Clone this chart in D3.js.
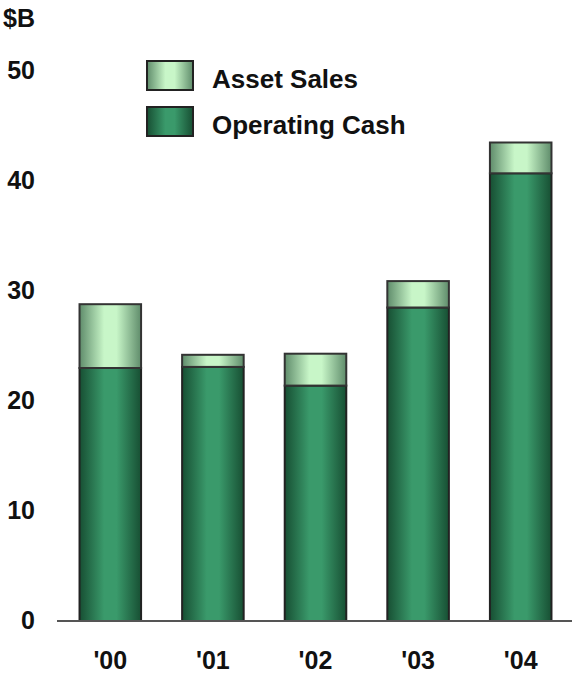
<!DOCTYPE html>
<html>
<head>
<meta charset="utf-8">
<script src="https://d3js.org/d3.v7.min.js"></script>
<style>
  body { margin: 0; background: #fff; }
  text { font-family: Arial, "Liberation Sans", sans-serif; font-weight: bold; fill: #111; }
</style>
</head>
<body>
<svg id="chart" width="575" height="675"></svg>
<script>
// data
var years = ["'00", "'01", "'02", "'03", "'04"];
var operatingCash = [23.0, 23.1, 21.4, 28.5, 40.7];
var assetSales = [5.8, 1.1, 2.9, 2.4, 2.8];
var yTicks = [0, 10, 20, 30, 40, 50];
var seriesNames = ["Asset Sales", "Operating Cash"];

var svg = d3.select("#chart");

var x = d3.scaleBand().domain(years).range([59, 572]).paddingInner(0.4).paddingOuter(0.2);
var y = d3.scaleLinear().domain([0, 50]).range([621, 71]);

// gradients (cylinder look)
var defs = svg.append("defs");
function grad(id, edge, mid) {
  var g = defs.append("linearGradient").attr("id", id)
    .attr("x1", "0%").attr("x2", "100%").attr("y1", "0%").attr("y2", "0%");
  g.append("stop").attr("offset", "0%").attr("stop-color", edge);
  g.append("stop").attr("offset", "40%").attr("stop-color", mid);
  g.append("stop").attr("offset", "60%").attr("stop-color", mid);
  g.append("stop").attr("offset", "100%").attr("stop-color", edge);
}
grad("gOp", "#174f33", "#3a9a6b");
grad("gAs", "#5f8c6b", "#c8f6c8");

var stacked = years.map(function (d, i) {
  return { year: d, op: operatingCash[i], as: assetSales[i] };
});

// operating cash
svg.append("g").selectAll("rect")
  .data(stacked).join("rect")
  .attr("x", function (d) { return x(d.year); })
  .attr("width", x.bandwidth())
  .attr("y", function (d) { return y(d.op); })
  .attr("height", function (d) { return y(0) - y(d.op); })
  .attr("fill", "url(#gOp)")
  .attr("stroke", "#222").attr("stroke-width", 2);

// asset sales
svg.append("g").selectAll("rect")
  .data(stacked).join("rect")
  .attr("x", function (d) { return x(d.year); })
  .attr("width", x.bandwidth())
  .attr("y", function (d) { return y(d.op + d.as); })
  .attr("height", function (d) { return y(d.op) - y(d.op + d.as); })
  .attr("fill", "url(#gAs)")
  .attr("stroke", "#333").attr("stroke-width", 2);

// baseline
svg.append("line")
  .attr("x1", 57).attr("x2", 572)
  .attr("y1", y(0)).attr("y2", y(0))
  .attr("stroke", "#555").attr("stroke-width", 2);

// y tick labels
svg.append("g").selectAll("text")
  .data(yTicks).join("text")
  .attr("x", 35)
  .attr("y", function (d) { return y(d) + 8; })
  .attr("text-anchor", "end")
  .attr("font-size", 25)
  .text(function (d) { return d; });

// x labels
svg.append("g").selectAll("text")
  .data(years).join("text")
  .attr("x", function (d) { return x(d) + x.bandwidth() / 2; })
  .attr("y", 669)
  .attr("text-anchor", "middle")
  .attr("font-size", 25)
  .text(function (d) { return d; });

// unit label
svg.append("text").attr("x", 3).attr("y", 27).attr("font-size", 25).text("$B");

// legend
var legend = svg.append("g").selectAll("g")
  .data(seriesNames).join("g")
  .attr("transform", function (d, i) { return "translate(147," + (61 + i * 46) + ")"; });
legend.append("rect")
  .attr("width", 46).attr("height", 29)
  .attr("fill", function (d, i) { return i === 0 ? "url(#gAs)" : "url(#gOp)"; })
  .attr("stroke", "#222").attr("stroke-width", 2);
legend.append("text")
  .attr("x", 65).attr("y", 26.5)
  .attr("font-size", 26)
  .text(function (d) { return d; });
</script>
</body>
</html>
